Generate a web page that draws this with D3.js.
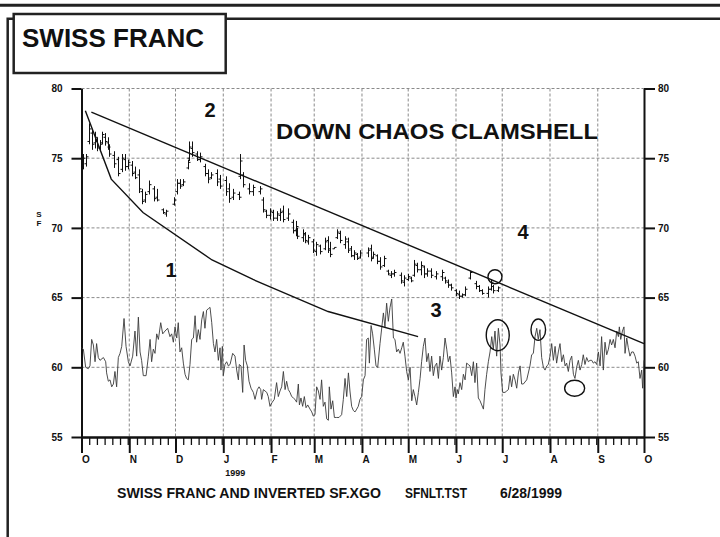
<!DOCTYPE html>
<html lang="en">
<head>
    <meta charset="UTF-8">
    <title>Swiss Franc</title>
    <style>
        body {
            margin: 0;
            background-color: #ffffff;
            overflow: hidden;
        }
        svg text {
            font-family: "Liberation Sans", Arial, sans-serif;
            font-weight: bold;
            fill: #111;
        }
        .grid line {
            stroke: #8a8a8a;
            stroke-width: 1;
            stroke-dasharray: 3,2;
        }
        .axis path, .axis line {
            stroke: #111;
            stroke-width: 2;
        }
        .axis text {
            font-size: 10px;
        }
    </style>
</head>
<body>
    <svg id="chart" width="720" height="537"></svg>

    <script src="https://d3js.org/d3.v7.min.js"></script>
    <script>
        // ---- data (days counted from 1 Oct 1998) ----
        const monthLabels = ["O", "N", "D", "J", "F", "M", "A", "M", "J", "J", "A", "S", "O"];
        const yTicks = [55, 60, 65, 70, 75, 80];

        // price bars: [day, high, low, open, close]
        const priceBars = [
            [1, 75.3, 74.2, 74.4, 75.0], [3, 75.3, 74.4, 74.6, 75.1], [5, 77.5, 76.0, 76.2, 77.1],
            [7, 77.1, 75.6, 76.8, 76.0], [9, 76.9, 75.7, 76.1, 76.5], [10, 76.5, 75.5, 76.2, 75.8],
            [12, 76.3, 75.5, 75.7, 76.0], [13, 76.9, 76.0, 76.1, 76.7], [15, 76.8, 75.9, 76.5, 76.2],
            [17, 76.5, 75.6, 76.1, 75.8], [18, 76.0, 75.1, 75.8, 75.3], [21, 75.5, 74.3, 75.2, 74.6],
            [24, 75.1, 73.7, 74.9, 73.9], [26, 75.3, 74.0, 74.2, 75.0], [28, 75.3, 74.1, 74.9, 74.4],
            [30, 74.9, 74.2, 74.4, 74.7], [33, 74.8, 73.7, 74.5, 73.9], [35, 74.4, 73.5, 74.0, 73.6],
            [37, 74.2, 72.5, 73.8, 72.8], [39, 72.8, 71.7, 72.6, 71.9], [41, 72.6, 71.8, 72.0, 72.4],
            [44, 73.4, 72.4, 72.6, 73.1], [47, 73.0, 71.9, 72.8, 72.1], [49, 72.8, 71.9, 72.2, 72.0],
            [53, 71.4, 71.0, 71.3, 71.1], [55, 71.3, 70.8, 71.0, 71.2], [60, 72.2, 71.6, 71.7, 72.0],
            [62, 73.5, 72.4, 72.6, 73.2], [64, 73.5, 72.8, 73.2, 73.0], [66, 73.5, 73.0, 73.1, 73.3],
            [69, 74.9, 74.2, 74.3, 74.7], [70, 76.2, 74.8, 75.0, 75.8], [72, 76.2, 75.1, 75.7, 75.4],
            [75, 75.5, 74.8, 75.3, 74.9], [77, 75.4, 74.7, 74.9, 75.1], [80, 74.6, 73.7, 74.4, 73.9],
            [82, 74.2, 73.2, 73.9, 73.5], [84, 74.0, 73.5, 73.6, 73.8], [88, 74.2, 73.0, 73.9, 73.3],
            [90, 73.8, 72.8, 73.5, 73.0], [94, 73.7, 72.3, 73.4, 72.6], [96, 73.2, 71.8, 72.8, 72.1],
            [98, 72.8, 72.0, 72.2, 72.5], [102, 72.6, 72.0, 72.4, 72.2], [103, 75.3, 73.5, 73.7, 74.8],
            [105, 74.0, 72.9, 73.8, 73.1], [109, 73.2, 72.4, 72.8, 72.6], [111, 73.1, 72.3, 72.6, 72.9],
            [116, 73.0, 72.4, 72.6, 72.8], [118, 72.2, 71.1, 72.0, 71.3], [120, 71.3, 70.7, 71.2, 70.9],
            [122, 71.4, 70.6, 70.9, 71.2], [124, 71.3, 70.5, 71.1, 70.7], [127, 71.2, 70.5, 70.7, 71.0],
            [129, 71.4, 70.5, 70.9, 71.1], [131, 71.6, 70.4, 71.2, 70.6], [134, 71.4, 70.5, 70.7, 71.0],
            [137, 70.6, 69.6, 70.4, 69.8], [139, 70.5, 69.4, 69.8, 70.1], [140, 70.0, 69.2, 69.9, 69.4],
            [144, 69.9, 69.0, 69.3, 69.6], [145, 69.7, 68.9, 69.5, 69.1], [147, 69.5, 68.8, 69.0, 69.3],
            [150, 69.2, 68.2, 69.0, 68.4], [152, 69.0, 68.0, 68.3, 68.8], [155, 68.8, 68.1, 68.7, 68.3],
            [158, 69.3, 68.4, 68.5, 69.0], [160, 69.4, 68.2, 69.1, 68.4], [161, 69.0, 67.9, 68.5, 68.1],
            [164, 68.6, 68.5, 68.5, 68.6], [166, 69.9, 69.2, 69.3, 69.7], [168, 69.8, 68.9, 69.6, 69.1],
            [171, 69.4, 68.5, 68.8, 69.2], [173, 69.3, 68.2, 69.0, 68.4], [175, 68.7, 67.9, 68.5, 68.0],
            [177, 68.4, 67.7, 68.0, 68.2], [179, 68.2, 67.7, 68.1, 67.8], [181, 68.4, 67.8, 67.9, 68.2],
            [186, 68.6, 67.9, 68.2, 68.4], [188, 68.8, 67.6, 68.5, 67.8], [189, 68.3, 67.8, 67.9, 68.1],
            [192, 68.1, 67.4, 68.0, 67.6], [194, 67.9, 67.0, 67.6, 67.2], [196, 68.0, 67.2, 67.3, 67.8],
            [199, 67.0, 66.6, 66.9, 66.7], [201, 66.9, 66.4, 66.6, 66.7], [203, 67.0, 66.5, 66.7, 66.8],
            [207, 66.8, 66.0, 66.6, 66.2], [209, 66.6, 65.8, 66.1, 66.4], [212, 66.7, 66.2, 66.3, 66.5],
            [214, 66.5, 66.1, 66.4, 66.2], [216, 67.7, 66.5, 66.6, 67.4], [218, 67.5, 66.8, 67.3, 67.0],
            [220, 67.6, 66.6, 67.0, 67.3], [222, 67.3, 66.4, 67.2, 66.7], [224, 67.1, 66.5, 66.7, 66.9],
            [227, 67.1, 66.4, 66.9, 66.6], [230, 66.9, 66.3, 66.5, 66.7], [234, 67.0, 66.2, 66.5, 66.8],
            [236, 66.5, 66.0, 66.4, 66.2], [238, 66.3, 65.7, 66.1, 65.9], [240, 66.0, 65.5, 65.9, 65.7],
            [243, 65.6, 65.1, 65.5, 65.3], [245, 65.5, 64.9, 65.2, 65.1], [247, 65.3, 65.0, 65.1, 65.2],
            [249, 65.8, 65.1, 65.2, 65.6], [252, 66.9, 66.3, 66.4, 66.8], [256, 66.2, 65.6, 66.0, 65.8],
            [258, 65.9, 65.4, 65.8, 65.5], [260, 65.6, 65.2, 65.5, 65.3], [264, 65.8, 65.0, 65.3, 65.6],
            [266, 66.3, 65.5, 65.6, 66.1], [267, 65.9, 65.3, 65.8, 65.5], [270, 65.8, 65.4, 65.5, 65.7]
        ];

        // inverted SF.XGO line: [day, value]
        const oscPoints = [
            [0.1, 61.4], [1.2, 61.3], [2.7, 60.0], [4.4, 59.9], [5.5, 60.1], [6.6, 62.0], [7.7, 61.6], [8.8, 60.4],
            [9.8, 61.7], [10.9, 60.7], [12.0, 60.5], [14.2, 60.7], [15.7, 60.4], [16.3, 59.6], [17.4, 59.0], [18.5, 59.1],
            [19.6, 58.6], [20.7, 58.8], [21.7, 59.7], [22.8, 58.6], [23.9, 60.7], [25.0, 61.0], [26.1, 61.5], [27.6, 63.5],
            [28.9, 61.5], [30.4, 60.4], [31.5, 60.1], [33.2, 60.8], [34.7, 62.6], [35.8, 60.8], [36.9, 63.6], [38.0, 61.1],
            [39.0, 60.5], [40.1, 59.4], [41.9, 59.4], [43.4, 60.8], [44.5, 62.0], [45.5, 60.4], [46.6, 61.3], [47.7, 61.0],
            [48.8, 62.4], [49.9, 62.0], [51.4, 63.2], [52.7, 62.4], [54.2, 62.6], [55.9, 62.8], [57.4, 62.2], [58.5, 62.4],
            [59.6, 61.8], [60.7, 62.9], [61.8, 62.1], [62.8, 63.2], [63.9, 61.1], [65.0, 61.4], [66.1, 60.3], [67.2, 59.5],
            [68.2, 59.2], [69.3, 59.1], [70.4, 60.2], [71.5, 62.0], [72.6, 62.1], [73.7, 63.7], [74.7, 61.8], [75.8, 62.7],
            [76.9, 62.0], [78.0, 63.4], [79.1, 64.0], [80.1, 62.8], [81.2, 64.1], [82.3, 64.2], [83.4, 64.3], [84.5, 63.2],
            [85.6, 61.7], [86.6, 61.1], [87.7, 62.0], [88.8, 60.5], [89.9, 61.4], [90.5, 59.8], [91.4, 61.5], [92.0, 59.4],
            [93.1, 60.2], [94.2, 60.4], [95.3, 60.1], [96.4, 60.2], [98.1, 61.0], [99.6, 60.8], [100.7, 59.8], [101.8, 59.1],
            [102.4, 60.2], [103.5, 60.1], [104.6, 58.2], [105.5, 61.6], [106.5, 60.5], [107.6, 60.1], [108.7, 59.0], [110.0, 58.5],
            [111.5, 58.2], [112.6, 57.7], [114.1, 58.4], [115.2, 58.6], [116.3, 58.4], [116.9, 57.7], [118.0, 58.4], [119.1, 58.3],
            [120.2, 58.2], [121.2, 57.9], [122.3, 57.2], [123.8, 57.5], [125.1, 57.7], [126.6, 58.9], [127.7, 57.9], [128.8, 58.3],
            [129.9, 58.6], [131.0, 59.7], [132.1, 58.4], [133.1, 59.0], [134.2, 58.4], [135.3, 58.2], [136.4, 57.9], [137.5, 57.8],
            [138.5, 57.7], [139.6, 57.5], [140.7, 58.8], [141.4, 57.3], [142.4, 57.8], [143.5, 57.2], [144.6, 57.9], [145.7, 57.1],
            [146.8, 57.3], [148.3, 57.0], [149.4, 56.8], [150.4, 56.5], [151.5, 56.6], [152.6, 58.6], [153.7, 58.3], [154.8, 57.7],
            [155.8, 59.1], [156.9, 57.2], [158.0, 57.5], [159.1, 56.3], [160.2, 56.2], [160.8, 58.6], [161.9, 57.0], [163.0, 57.6],
            [164.1, 56.4], [165.6, 56.4], [167.1, 56.4], [168.8, 56.6], [169.9, 57.7], [171.0, 59.2], [172.1, 57.9], [173.2, 59.6],
            [174.2, 58.3], [175.3, 57.2], [176.4, 56.9], [177.5, 56.8], [178.6, 57.0], [179.6, 57.2], [180.7, 57.7], [181.8, 57.9],
            [182.9, 59.1], [184.0, 59.4], [185.0, 62.0], [186.1, 62.1], [186.8, 60.3], [187.9, 63.0], [188.9, 62.4], [190.0, 61.3],
            [191.1, 60.1], [192.2, 60.0], [193.7, 61.7], [195.9, 63.9], [196.9, 62.9], [198.0, 64.6], [199.1, 63.3], [200.2, 64.3],
            [201.3, 64.9], [202.4, 62.1], [203.4, 62.0], [204.5, 61.1], [205.6, 61.3], [206.7, 61.0], [207.8, 61.4], [208.8, 61.8],
            [209.9, 60.8], [211.0, 59.7], [212.1, 59.1], [213.2, 60.0], [214.3, 57.6], [215.3, 58.4], [216.4, 57.9], [217.5, 57.3],
            [218.6, 58.2], [219.7, 59.2], [220.7, 60.4], [221.8, 61.5], [222.9, 62.1], [224.0, 60.4], [225.1, 61.0], [226.1, 59.7],
            [227.2, 60.8], [228.3, 59.4], [229.4, 60.1], [230.5, 60.3], [231.6, 59.2], [232.6, 60.8], [233.7, 59.8], [234.8, 60.7],
            [235.9, 62.1], [237.0, 61.3], [238.0, 60.4], [239.1, 60.8], [240.2, 59.6], [241.3, 57.9], [242.4, 58.6], [243.0, 57.8],
            [243.9, 58.4], [244.5, 58.1], [245.6, 58.9], [246.7, 58.4], [247.8, 59.5], [248.9, 59.1], [249.9, 60.3], [251.0, 60.2],
            [252.1, 60.1], [253.2, 59.4], [254.3, 60.4], [255.3, 58.9], [256.4, 60.3], [257.5, 57.8], [258.6, 57.6], [259.7, 57.3],
            [260.8, 57.0], [261.8, 58.4], [262.9, 59.5], [264.0, 60.4], [265.1, 61.1], [266.2, 62.2], [267.2, 61.3], [268.3, 62.6],
            [269.4, 60.8], [270.5, 62.8], [271.6, 61.6], [272.2, 59.6], [273.3, 58.2], [274.8, 58.2], [275.9, 58.3], [277.0, 58.4],
            [278.1, 59.4], [279.1, 58.6], [280.2, 59.5], [281.3, 59.1], [282.4, 58.5], [283.5, 59.6], [284.6, 60.1], [285.6, 58.8],
            [286.7, 58.8], [288.9, 59.1], [291.0, 60.1], [292.1, 60.9], [293.2, 61.0], [294.3, 62.2], [295.4, 62.8], [296.4, 62.0],
            [297.5, 62.7], [298.6, 60.7], [299.7, 60.0], [300.8, 59.8], [301.9, 60.1], [302.9, 60.2], [304.0, 60.8], [305.1, 61.7],
            [306.2, 60.5], [307.3, 61.5], [308.3, 60.3], [309.4, 61.1], [310.5, 61.7], [311.6, 60.4], [312.7, 60.9], [313.8, 60.1],
            [314.8, 60.3], [315.9, 59.7], [317.0, 60.5], [318.1, 60.8], [319.2, 59.5], [320.2, 59.2], [321.3, 60.0], [322.4, 60.5],
            [323.5, 59.8], [324.6, 60.2], [325.6, 60.9], [326.7, 60.2], [327.8, 60.7], [328.9, 60.4], [330.0, 60.5], [331.1, 60.5],
            [332.1, 60.3], [333.2, 60.4], [334.3, 60.2], [335.4, 61.1], [336.5, 60.1], [337.5, 62.2], [338.6, 59.8], [339.7, 61.8],
            [340.8, 60.9], [341.9, 61.3], [343.0, 62.0], [344.0, 61.6], [345.1, 62.0], [346.2, 61.4], [347.3, 62.6], [348.4, 62.2],
            [349.0, 62.9], [349.9, 62.0], [351.0, 62.6], [352.0, 62.9], [352.7, 61.0], [353.8, 62.1], [354.8, 61.4], [355.9, 60.8],
            [357.0, 61.1], [358.1, 61.1], [359.2, 60.8], [360.3, 60.3], [361.3, 60.4], [362.4, 59.2], [363.5, 59.8], [364.1, 58.5],
            [364.8, 60.0], [365.0, 60.5]
        ];

        // hand-drawn trend lines and rings: [day, value]
        const upperTrend = [[6.4, 78.3], [365, 61.7]];
        const lowerTrend = [[2.5, 78.4], [19.3, 73.5], [39.9, 71.1], [84.7, 67.7], [111.3, 66.3], [160.0, 64.0], [218.4, 62.2]];
        const rings = [[268.3, 66.5], [270.1, 62.3], [296.4, 62.7], [320.0, 58.5]];
        const wavePoints = ["1", "2", "3", "4"];

        // ---- chart ----
        const start = new Date(1998, 9, 1);
        const end = new Date(1999, 9, 1);
        const dayToDate = d => new Date(start.getTime() + d * 864e5);

        const svg = d3.select("#chart");
        svg.append("rect").attr("width", 720).attr("height", 537).attr("fill", "#fff");

        const x = d3.scaleTime().domain([start, end]).range([81.5, 644]);
        const y = d3.scaleLinear().domain([55, 80]).range([437, 88.5]);

        const monthDates = d3.timeMonth.range(start, d3.timeDay.offset(end, 1));
        const minorDates = d3.timeDay.every(5).range(start, end).filter(d => d.getDate() !== 1);

        // grid
        const grid = svg.append("g").attr("class", "grid");
        grid.selectAll(".h").data(yTicks.filter(v => v > 55)).enter().append("line")
            .attr("x1", x.range()[0]).attr("x2", x.range()[1])
            .attr("y1", d => y(d)).attr("y2", d => y(d));
        grid.selectAll(".v").data(monthDates.slice(1, -1)).enter().append("line")
            .attr("x1", d => x(d)).attr("x2", d => x(d))
            .attr("y1", y(80)).attr("y2", y(55));

        // axes
        svg.append("g").attr("class", "axis")
            .attr("transform", `translate(${x.range()[0]},0)`)
            .call(d3.axisLeft(y).tickValues(yTicks).tickSize(10).tickSizeOuter(0).tickPadding(9));
        svg.append("g").attr("class", "axis")
            .attr("transform", `translate(${x.range()[1]},0)`)
            .call(d3.axisRight(y).tickValues(yTicks).tickSize(11).tickSizeOuter(0).tickPadding(3));

        svg.append("g").attr("class", "axis minor")
            .attr("transform", `translate(0,${y(55)})`)
            .call(d3.axisBottom(x).tickValues(minorDates).tickSize(8).tickSizeOuter(0).tickFormat(""))
            .selectAll("line").style("stroke-width", 1.3);

        const xAxis = svg.append("g").attr("class", "axis")
            .attr("transform", `translate(0,${y(55)})`)
            .call(d3.axisBottom(x).tickValues(monthDates).tickSize(16).tickSizeOuter(0).tickPadding(3)
                .tickFormat((d, i) => monthLabels[i]));
        xAxis.selectAll("text").attr("text-anchor", "start").attr("x", 0);

        svg.append("text")
            .attr("x", x(monthDates[3]) + 2).attr("y", 476)
            .style("font-size", "9px")
            .text("1999");

        // SF axis label
        svg.append("text").attr("x", 39).attr("y", 217).attr("text-anchor", "middle")
            .style("font-size", "8px").text("S");
        svg.append("text").attr("x", 39).attr("y", 226).attr("text-anchor", "middle")
            .style("font-size", "8px").text("F");

        // oscillator line
        svg.append("path")
            .datum(oscPoints)
            .attr("fill", "none")
            .attr("stroke", "#3a3a3a")
            .attr("stroke-width", 0.9)
            .attr("d", d3.line().x(d => x(dayToDate(d[0]))).y(d => y(d[1])));

        // price bars
        const bars = svg.append("g").attr("stroke", "#111").attr("stroke-width", 1);
        priceBars.forEach(b => {
            const bx = Math.round(x(dayToDate(b[0]))) + 0.5;
            bars.append("line").attr("x1", bx).attr("x2", bx).attr("y1", y(b[1])).attr("y2", y(b[2]));
            bars.append("line").attr("x1", bx - 2).attr("x2", bx).attr("y1", y(b[3])).attr("y2", y(b[3]));
            bars.append("line").attr("x1", bx).attr("x2", bx + 2).attr("y1", y(b[4])).attr("y2", y(b[4]));
        });

        // trend lines
        const trendLine = d3.line().x(d => x(dayToDate(d[0]))).y(d => y(d[1]));
        [upperTrend, lowerTrend].forEach(t => {
            svg.append("path").datum(t)
                .attr("fill", "none").attr("stroke", "#111").attr("stroke-width", 1.4)
                .attr("d", trendLine);
        });

        // rings
        const ringRadii = [[7, 7], [11.5, 15.5], [7.3, 10.7], [10, 8]];
        svg.selectAll(".ring").data(rings).enter().append("ellipse")
            .attr("cx", d => x(dayToDate(d[0])))
            .attr("cy", d => y(d[1]))
            .attr("rx", (d, i) => ringRadii[i][0])
            .attr("ry", (d, i) => ringRadii[i][1])
            .attr("fill", "none").attr("stroke", "#111").attr("stroke-width", 1.4);

        // annotations
        const wavePos = [[171, 277], [210, 117], [436, 317], [523, 239]];
        svg.selectAll(".wave").data(wavePoints).enter().append("text")
            .attr("x", (d, i) => wavePos[i][0]).attr("y", (d, i) => wavePos[i][1])
            .attr("text-anchor", "middle")
            .style("font-size", "20px")
            .text(d => d);

        svg.append("text")
            .attr("x", 276).attr("y", 139)
            .attr("textLength", 322).attr("lengthAdjust", "spacingAndGlyphs")
            .style("font-size", "22px")
            .text("DOWN CHAOS CLAMSHELL");

        // caption
        const caption = svg.append("g").style("font-size", "14px");
        caption.append("text").attr("x", 117).attr("y", 498)
            .attr("textLength", 264).attr("lengthAdjust", "spacingAndGlyphs")
            .text("SWISS FRANC AND INVERTED SF.XGO");
        caption.append("text").attr("x", 405).attr("y", 498)
            .attr("textLength", 62).attr("lengthAdjust", "spacingAndGlyphs")
            .text("SFNLT.TST");
        caption.append("text").attr("x", 500).attr("y", 498)
            .attr("textLength", 62).attr("lengthAdjust", "spacingAndGlyphs")
            .text("6/28/1999");

        // page frame and title box
        svg.append("line").attr("x1", 0).attr("x2", 720).attr("y1", 5.3).attr("y2", 5.3)
            .attr("stroke", "#222").attr("stroke-width", 3);
        svg.append("path").attr("d", "M7.7,537 V18.7 H720")
            .attr("fill", "none").attr("stroke", "#222").attr("stroke-width", 2.5);
        svg.append("rect").attr("x", 13.7).attr("y", 14).attr("width", 212).attr("height", 59)
            .attr("fill", "#fff").attr("stroke", "#222").attr("stroke-width", 2.5);
        svg.append("text").attr("x", 22).attr("y", 47)
            .style("font-size", "26px")
            .text("SWISS FRANC");
    </script>
</body>
</html>
